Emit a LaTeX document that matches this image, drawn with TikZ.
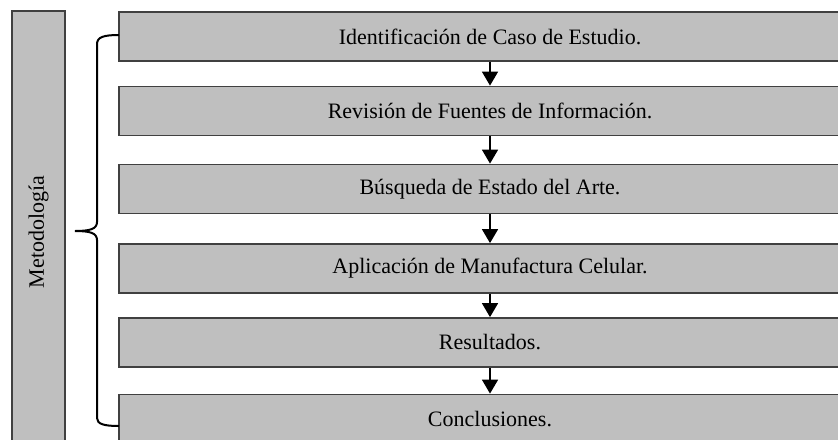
\documentclass[tikz,border=0pt]{standalone}
\usepackage{fontspec}
\setmainfont{Liberation Serif}
\usetikzlibrary{positioning,arrows.meta}
\definecolor{boxgray}{RGB}{191,191,191}
\definecolor{edgegray}{RGB}{64,64,64}

\begin{document}
\begin{tikzpicture}[
  x=0.5pt, y=-0.5pt,
  every node/.style={font=\fontsize{11}{13}\selectfont},
  stepBox/.style={rectangle, draw=edgegray, fill=boxgray, line width=0.9pt,
    minimum width=371pt, minimum height=24.5pt, inner sep=0pt},
  sideBox/.style={rectangle, draw=edgegray, fill=boxgray, line width=0.9pt,
    minimum width=26.5pt, minimum height=221pt, inner sep=0pt},
  flow/.style={line width=0.8pt, -{Triangle[width=8pt,length=7pt]}}
]
  \useasboundingbox (0,0) rectangle (838,439);
  \clip (0,0) rectangle (838,439);

  % Side label
  \node[sideBox] (side) at (38.5,232) {};
  \node[rotate=90] (sideText) at (side.center) {Metodología};

  % Steps
  \node[stepBox] (s1) at (490,36.5) {Identificación de Caso de Estudio.};
  \node[stepBox] (s2) at (490,111)  {Revisión de Fuentes de Información.};
  \node[stepBox] (s3) at (490,189)  {Búsqueda de Estado del Arte.};
  \node[stepBox] (s4) at (490,268.5) {Aplicación de Manufactura Celular.};
  \node[stepBox] (s5) at (490,342.5) {Resultados.};
  \node[stepBox] (s6) at (490,419)  {Conclusiones.};

  % Arrows between steps
  \foreach \a/\b in {s1/s2, s2/s3, s3/s4, s4/s5, s5/s6}
    \draw[flow] (\a.south) -- (\b.north);

  % Brace
  \coordinate (bTop) at (119,35);
  \coordinate (bTip) at (75,231);
  \coordinate (bBot) at (119,426);
  \draw[line width=1pt] (bTop) .. controls (104,35) and (97,37) .. (97,44)
    -- (97,222) .. controls (97,229) and (90,231) .. (bTip)
    .. controls (90,231) and (97,233) .. (97,240)
    -- (97,418) .. controls (97,424) and (104,426) .. (bBot);
\end{tikzpicture}
\end{document}
